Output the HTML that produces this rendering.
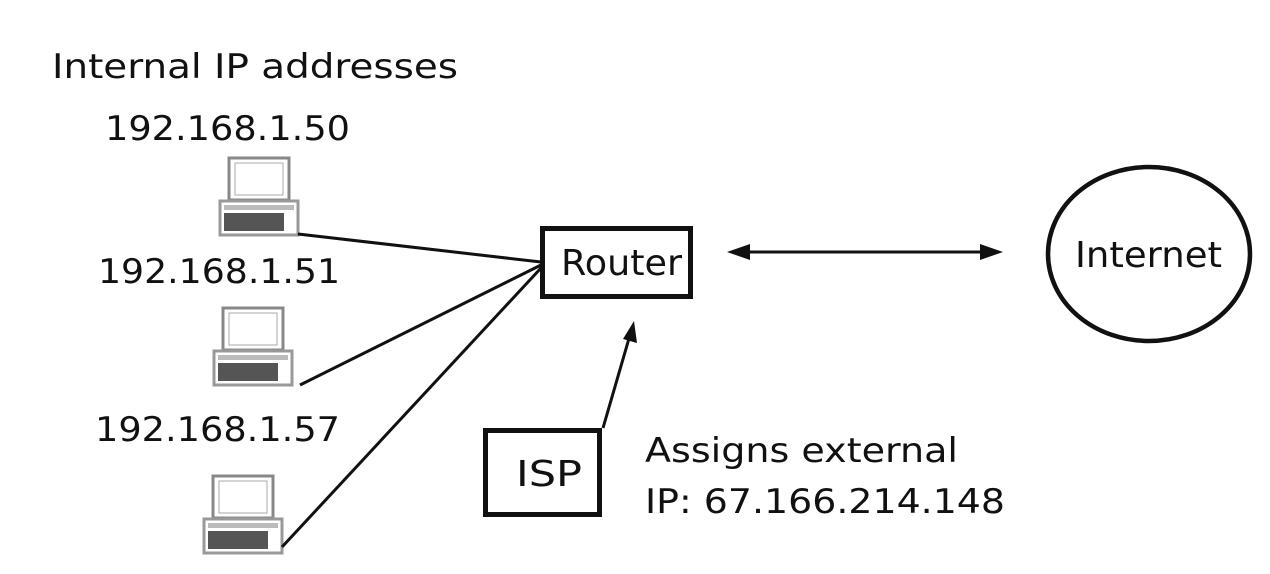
<!DOCTYPE html>
<html><head><meta charset="utf-8"><style>
html,body{margin:0;padding:0;background:#fff;}
svg{display:block}
text{font-family:"DejaVu Sans","Liberation Sans",sans-serif;fill:#111}
</style></head><body>
<svg width="1270" height="574" viewBox="0 0 1270 574" xmlns="http://www.w3.org/2000/svg">
<defs>
<g id="pc">
  <rect x="11" y="1" width="60" height="42" fill="none" stroke="#888" stroke-width="3"/>
  <rect x="17" y="6" width="48" height="32" fill="#fff" stroke="#aaa" stroke-width="1"/>
  <rect x="2" y="44" width="78" height="34" fill="none" stroke="#999" stroke-width="3"/>
  <rect x="6" y="56" width="60" height="18" fill="#555"/>
  <rect x="6" y="48" width="70" height="5" fill="#bbb"/>
</g>
</defs>
<text x="52" y="78" font-size="34" textLength="406" lengthAdjust="spacingAndGlyphs">Internal IP addresses</text>
<text x="105" y="140" font-size="34" textLength="245" lengthAdjust="spacingAndGlyphs">192.168.1.50</text>
<text x="98" y="283" font-size="34" textLength="242" lengthAdjust="spacingAndGlyphs">192.168.1.51</text>
<text x="95" y="441" font-size="34" textLength="245" lengthAdjust="spacingAndGlyphs">192.168.1.57</text>

<use href="#pc" x="218" y="157"/>
<use href="#pc" x="212" y="307"/>
<use href="#pc" x="202" y="475"/>

<g stroke="#111" stroke-width="3" fill="none">
  <line x1="298" y1="234" x2="541" y2="262"/>
  <line x1="300" y1="385" x2="541" y2="265"/>
  <line x1="282" y1="547" x2="541" y2="268"/>
  <line x1="740" y1="252" x2="990" y2="252"/>
  <line x1="603" y1="428" x2="630" y2="335"/>
</g>
<polygon points="727,252 750,244 750,260" fill="#111"/>
<polygon points="1003,252 980,244 980,260" fill="#111"/>
<polygon points="634,321 637,343 623,339" fill="#111"/>

<rect x="542.5" y="228.5" width="148" height="68" fill="#fff" stroke="#111" stroke-width="5"/>
<text x="561" y="275" font-size="36" textLength="121" lengthAdjust="spacingAndGlyphs">Router</text>

<rect x="485.5" y="430.5" width="114" height="84" fill="#fff" stroke="#111" stroke-width="5"/>
<text x="516" y="486" font-size="36" textLength="66" lengthAdjust="spacingAndGlyphs">ISP</text>

<text x="645" y="462" font-size="34" textLength="313" lengthAdjust="spacingAndGlyphs">Assigns external</text>
<text x="645" y="513" font-size="34" textLength="360" lengthAdjust="spacingAndGlyphs">IP: 67.166.214.148</text>

<ellipse cx="1149" cy="254" rx="101" ry="87" fill="none" stroke="#111" stroke-width="4.5"/>
<text x="1075" y="267" font-size="36" textLength="147" lengthAdjust="spacingAndGlyphs">Internet</text>
</svg>
</body></html>
